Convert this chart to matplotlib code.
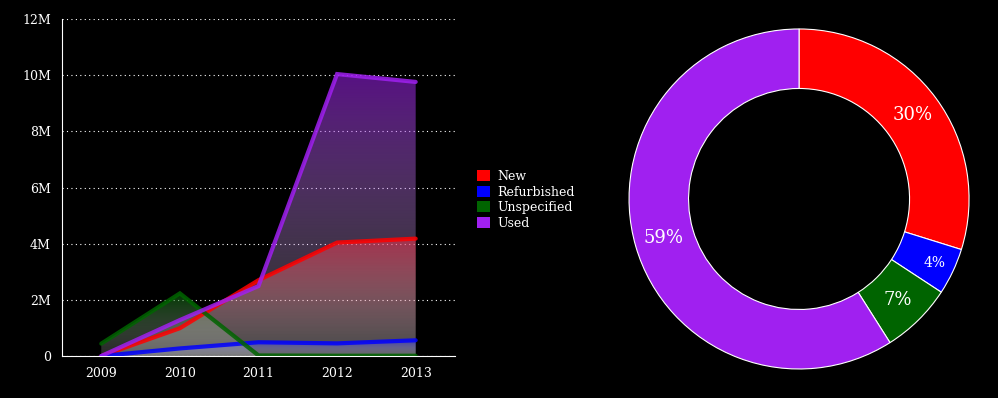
import numpy as np
import matplotlib
matplotlib.use("Agg")
import matplotlib.pyplot as plt
from matplotlib.colors import to_rgb
from matplotlib.patches import Patch

# data (values in millions)
years = [2009, 2010, 2011, 2012, 2013]
categories = ["New", "Refurbished", "Unspecified", "Used"]
new = [0.0, 0.99, 2.70, 4.04, 4.18]
refurbished = [0.0, 0.27, 0.49, 0.45, 0.56]
unspecified = [0.44, 2.23, 0.02, 0.01, 0.01]
used = [0.0, 1.28, 2.49, 10.04, 9.76]
colors = ["#ff0000", "#0000ff", "#006400", "#a020f0"]
y_ticks = [0, 2, 4, 6, 8, 10, 12]
y_labels = ["0", "2M", "4M", "6M", "8M", "10M", "12M"]

series = [new, refurbished, unspecified, used]

plt.rcParams["font.family"] = ["DejaVu Serif"]
fig = plt.figure(figsize=(9.98, 3.98), dpi=100, facecolor="black")

# ---- area chart ----
ax = fig.add_axes([0.0621, 0.1055, 0.3938, 0.8467])
ax.set_facecolor("black")


def gradient_fill(ax, x, y, color, a_top=0.55, a_bot=0.15):
    """fill under a line, colour at the top fading to faint white at zero"""
    top = max(y)
    rgb = np.array(to_rgb(color))
    t = np.linspace(0, 1, 256)[:, None]  # 0 bottom, 1 top
    img = np.zeros((256, 1, 4))
    img[:, 0, :3] = (1 - t) * np.ones(3) + t * rgb
    img[:, 0, 3] = a_bot + (a_top - a_bot) * t[:, 0]
    poly = ax.fill_between(x, y, 0, facecolor="none", edgecolor="none")
    im = ax.imshow(img, aspect="auto", origin="lower",
                   extent=[min(x), max(x), 0, top], zorder=1)
    im.set_clip_path(poly.get_paths()[0], transform=ax.transData)


for vals, c in zip(series, colors):
    gradient_fill(ax, years, vals, c)
for vals, c in zip(series, colors):
    ax.plot(years, vals, color=c, lw=3, alpha=0.85, zorder=3,
            solid_capstyle="round", solid_joinstyle="miter")

ax.set_xlim(2008.5, 2013.5)
ax.set_ylim(0, 12)
ax.set_xticks(years)
ax.set_yticks(y_ticks)
ax.set_yticklabels(y_labels)
ax.grid(axis="y", color="white", linestyle=(0, (1, 3)), lw=0.8)
ax.set_axisbelow(True)
ax.tick_params(colors="white", length=0, labelsize=9, pad=8)
for side in ["top", "right"]:
    ax.spines[side].set_visible(False)
for side in ["left", "bottom"]:
    ax.spines[side].set_color("white")
    ax.spines[side].set_linewidth(0.8)

handles = [Patch(facecolor=c, edgecolor="none") for c in colors]
fig.legend(handles, categories, loc="upper left",
           bbox_to_anchor=(0.473, 0.585), frameon=False,
           labelcolor="white", fontsize=9, handlelength=1.0,
           handleheight=1.0, handletextpad=0.6, labelspacing=0.2,
           borderaxespad=0)

# ---- donut ----
pax = fig.add_axes([0.6303, 0.0729, 0.3407, 0.8543])
pax.set_facecolor("black")
totals = [sum(v) for v in series]
wedges, texts, autotexts = pax.pie(
    totals, colors=colors, startangle=90, counterclock=False,
    autopct="%d%%", pctdistance=0.83,
    wedgeprops=dict(width=0.35, edgecolor="white", linewidth=0.8),
    textprops=dict(color="white", fontsize=13))
for t, v in zip(autotexts, totals):
    share = v / sum(totals) * 100
    t.set_text(f"{share:.0f}%")
    if share < 5:
        t.set_fontsize(10)
        x, y = t.get_position()
        t.set_position((x * 1.06, y * 1.06))
pax.set_xlim(-1.0, 1.0)
pax.set_ylim(-1.0, 1.0)
pax.set_aspect("auto")

fig.savefig("out.png", dpi=100, facecolor="black")
